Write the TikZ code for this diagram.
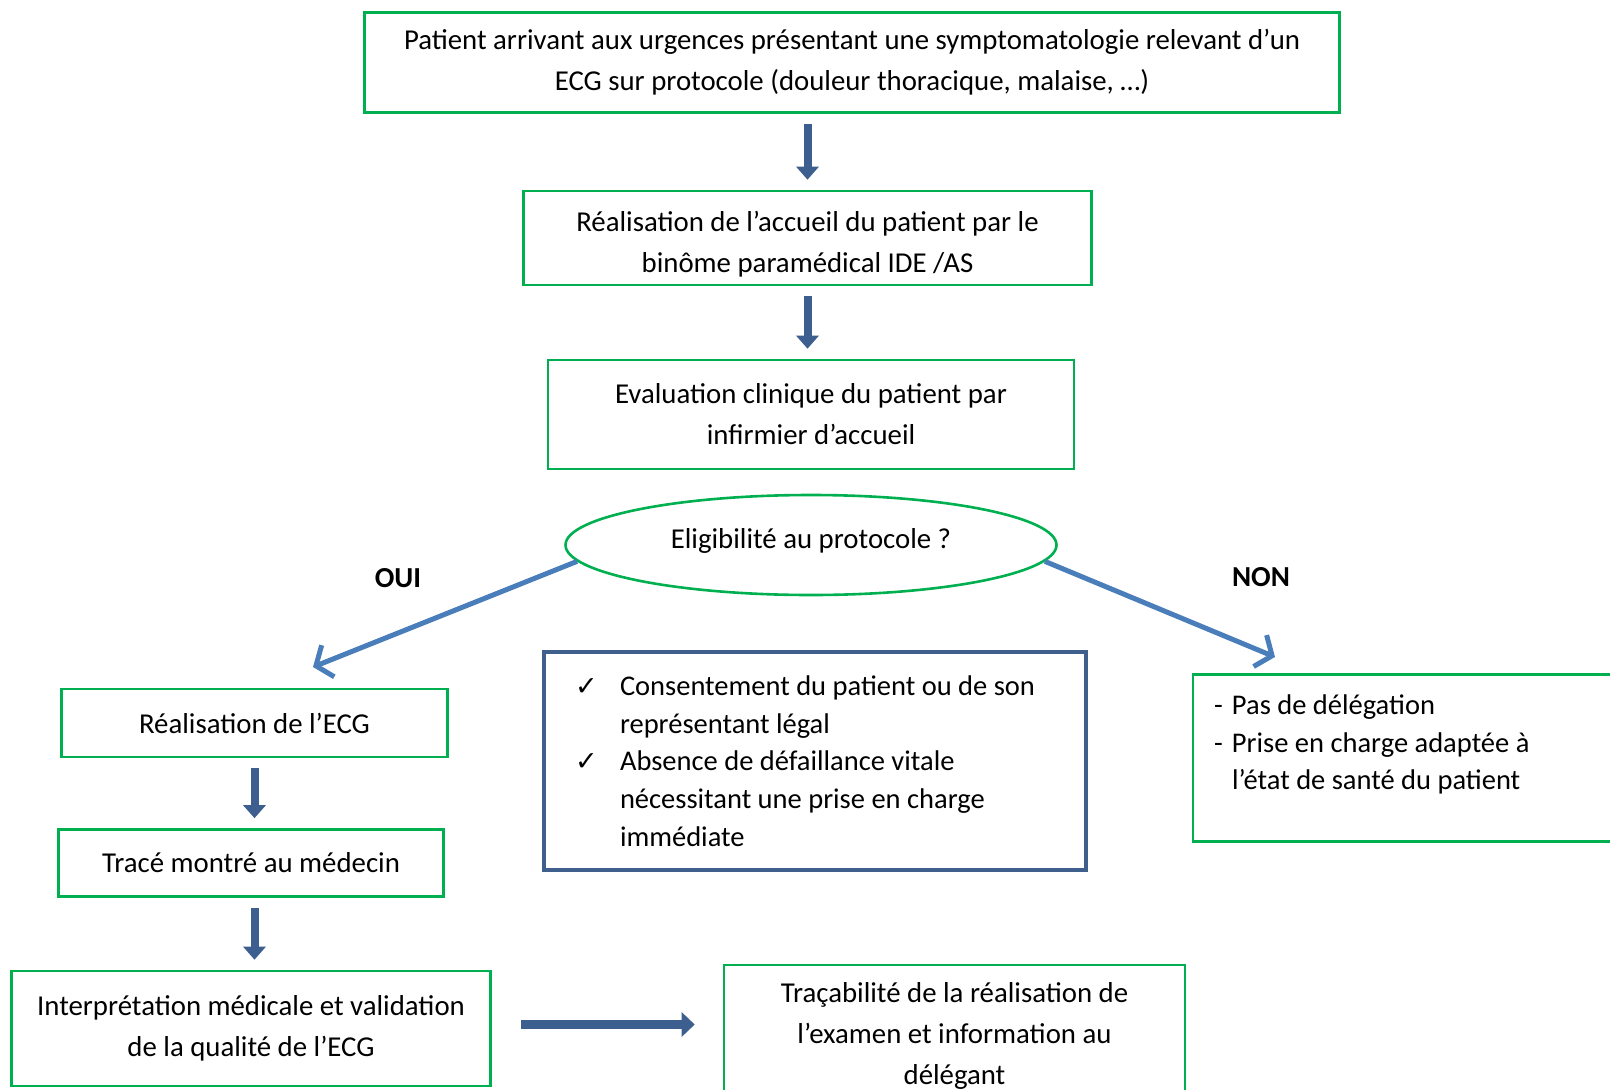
\documentclass[tikz,border=0pt]{standalone}
\usepackage{fontspec}
\setmainfont{Carlito}
\newfontfamily\symbfont{DejaVu Sans}
\usetikzlibrary{shapes.geometric,arrows.meta}

\definecolor{boxgreen}{HTML}{00B050}
\definecolor{frameblue}{HTML}{3F5F8C}
\definecolor{flowblue}{HTML}{3D5F8F}
\definecolor{branchblue}{HTML}{4A7EBB}

\newcommand{\coche}{\makebox[45pt][l]{\symbfont\fontsize{27}{27}\selectfont ✓}}
\newcommand{\retrait}{\hspace*{45pt}}
\newcommand{\tiret}{\makebox[18pt][l]{-}}

\tikzset{
	etape/.style={draw=boxgreen, line width=2.6pt, align=center,
		font=\fontsize{28.8}{41}\selectfont},
	liste/.style={line width=2.6pt, align=flush left,
		font=\fontsize{28.5}{37.7}\selectfont},
	flech/.style={draw=flowblue, line width=8pt, shorten <=10pt, shorten >=10pt,
		-{Triangle[length=13pt,width=22pt]}},
	branche/.style={draw=branchblue, line width=5pt,
		-{Straight Barb[length=13pt,width=34pt]}},
	reponse/.style={font=\fontsize{29}{29}\selectfont\bfseries}
}

\begin{document}
\begin{tikzpicture}[x=1pt, y=-1pt]
	\useasboundingbox (0,0) rectangle (1610,1090);
	\clip (0,0) rectangle (1610,1090);
	% etapes du tronc commun
	\node[etape, minimum width=975pt, minimum height=100pt] (patient) at (852,62.5)
		{Patient arrivant aux urgences présentant une symptomatologie relevant d’un\\ECG sur protocole (douleur thoracique, malaise, …)};
	\node[etape, minimum width=568pt, minimum height=94pt] (accueil) at (807.5,238)
		{\rule{0pt}{32pt}Réalisation de l’accueil du patient par le\\binôme paramédical IDE /AS};
	\node[etape, minimum width=526pt, minimum height=109pt] (evaluation) at (811,414.5)
		{Evaluation clinique du patient par\\infirmier d’accueil};
	\node[etape, ellipse, minimum width=491pt, minimum height=100pt, inner sep=0pt] (eligibilite) at (811,545)
		{\raisebox{14pt}{Eligibilité au protocole ?}};
	% branche OUI
	\node[etape, minimum width=386pt, minimum height=68pt] (realisation) at (254.5,723)
		{Réalisation de l’ECG};
	\node[etape, minimum width=385pt, minimum height=67pt] (trace) at (251,863)
		{Tracé montré au médecin};
	\node[etape, minimum width=479pt, minimum height=115pt] (interpretation) at (251,1028.5)
		{Interprétation médicale et validation\\de la qualité de l’ECG};
	\node[etape, minimum width=461pt, minimum height=142pt] (tracabilite) at (954.5,1036)
		{Traçabilité de la réalisation de\\l’examen et information au\\délégant};
	% criteres
	\node[liste, draw=frameblue, line width=3.6pt, minimum width=542pt, minimum height=218pt,
		text width=480pt, inner xsep=0pt] (criteres) at (815,761)
		{\coche Consentement du patient ou de son\\
		 \retrait représentant légal\\
		 \coche Absence de défaillance vitale\\
		 \retrait nécessitant une prise en charge\\
		 \retrait immédiate};
	% branche NON
	\node[liste, draw=boxgreen, minimum width=457pt, minimum height=167pt,
		text width=415pt, inner xsep=21pt] (nondeleg) at (1421.5,758)
		{\tiret Pas de délégation\\
		 \tiret Prise en charge adaptée à\\
		 \hspace*{18pt}l’état de santé du patient\\[-6pt]
		 ~};
	\node[reponse] (oui) at (398,578) {OUI};
	\node[reponse] (non) at (1261,577) {NON};
	\coordinate (ouibout) at (313,667);
	\coordinate (nonbout) at (1275,657);
	% fleches
	\draw[flech] (patient.south -| accueil.north) -- (accueil.north);
	\draw[flech] (accueil.south) -- (evaluation.north -| accueil.south);
	\draw[flech] (realisation.south) -- (trace.north -| realisation.south);
	\draw[flech] (trace.south -| realisation.south) -- (interpretation.north -| realisation.south);
	\draw[flech, line width=9pt, shorten <=29pt, shorten >=28pt,
		-{Triangle[length=13pt,width=24pt]}] ([yshift=4pt]interpretation.east) -- ([yshift=4pt]interpretation.east -| tracabilite.west);
	\draw[branche] (eligibilite.184) -- (ouibout);
	\draw[branche] (eligibilite.-4) -- (nonbout);
\end{tikzpicture}
\end{document}
